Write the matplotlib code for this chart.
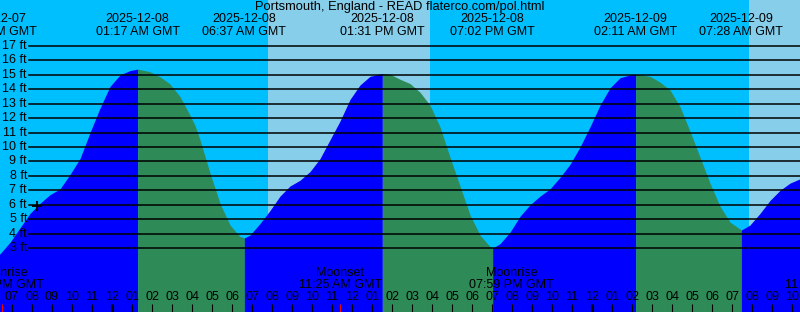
import matplotlib.pyplot as plt
import matplotlib.transforms as mtransforms
import numpy as np
import pandas as pd

plt.rcParams['font.family'] = ['Liberation Sans', 'DejaVu Sans']

base = pd.Timestamp("2025-12-08 00:00")

# tide curve, hours from 2025-12-08 00:00 GMT and height in ft
tide_hours = [-5.9, -5.6, -5.1, -4.6, -4.1, -3.6, -3.1, -2.6, -2.1, -1.6, -1.1, -0.6, -0.1,
              0.4, 0.9, 1.283, 1.9, 2.4, 2.9, 3.4, 3.9, 4.15, 4.4, 4.9, 5.4, 5.9, 6.4, 6.617,
              6.9, 7.4, 7.9, 8.4, 8.9, 9.4, 9.9, 10.4, 10.9, 11.4, 11.9, 12.4, 12.9, 13.517,
              13.9, 14.4, 14.9, 15.4, 15.9, 16.4, 16.9, 17.4, 17.9, 18.4, 18.9, 19.033,
              19.4, 19.9, 20.4, 20.9, 21.4, 21.9, 22.4, 22.9, 23.4, 23.9, 24.4, 24.9, 25.4,
              25.9, 26.183, 26.9, 27.4, 27.9, 28.4, 28.9, 29.4, 29.9, 30.4, 30.9, 31.467,
              31.9, 32.4, 32.9, 33.4, 33.9, 34.4]
tide_ft = [2.4, 2.6, 3.4, 4.4, 5.4, 6.1, 6.7, 7.1, 8.1, 9.2, 11.0, 12.7, 14.2,
           15.0, 15.3, 15.4, 15.22, 14.87, 14.37, 13.5, 12.2, 11.5, 10.5, 8.2, 6.1, 4.6, 3.8, 3.7,
           3.9, 4.7, 5.6, 6.6, 7.3, 7.7, 8.3, 9.2, 10.5, 11.8, 13.3, 14.3, 14.9, 15.1,
           15.05, 14.7, 14.4, 13.8, 12.9, 11.4, 9.3, 7.3, 5.3, 3.9, 3.1, 3.0,
           3.3, 4.1, 5.2, 6.0, 6.6, 7.1, 7.9, 8.8, 10.0, 11.4, 12.9, 14.1, 14.8,
           15.0, 15.05, 14.9, 14.5, 13.95, 12.8, 11.1, 9.3, 7.5, 5.9, 4.8, 4.25,
           4.6, 5.4, 6.3, 7.0, 7.5, 7.8]

# high / low water events
event_times = ["2025-12-07 18:06", "2025-12-08 01:17", "2025-12-08 06:37", "2025-12-08 13:31",
               "2025-12-08 19:02", "2025-12-09 02:11", "2025-12-09 07:28"]

moon_names = ["Moonrise", "Moonset", "Moonrise", "Moonset"]
moon_times = ["2025-12-07 18:29", "2025-12-08 11:25", "2025-12-08 19:59", "2025-12-09 11:44"]

sunrise_times = ["2025-12-08 07:48", "2025-12-09 07:51"]
sunset_times = ["2025-12-08 15:54", "2025-12-09 15:55"]

now_time = "2025-12-07 20:15"
now_ft = 5.9

ft_levels = list(range(3, 18))
hour_ticks = list(range(-5, 35))


def hrs(s):
    return (pd.Timestamp(s) - base).total_seconds() / 3600


night = '#00BFFF'
day = '#87CEEB'
rising = '#0000FF'
falling = '#2E8B57'

fig = plt.figure(figsize=(8, 3.12), dpi=100)
ax = fig.add_axes([0, 0, 1, 1])
ax.set_xlim(-5.6, 34.4)
ax.set_ylim(-1.43, 20.19)
ax.set_facecolor(night)
ax.set_axis_off()
fig.patch.set_facecolor(night)

for r, s in zip(sunrise_times, sunset_times):
    ax.axvspan(hrs(r), hrs(s), color=day, lw=0, zorder=0)

# water, blue when rising, green when falling
t = np.array(tide_hours)
h = np.array(tide_ft)
d = np.sign(np.diff(h))
start = 0
for i in range(1, len(d) + 1):
    if i == len(d) or d[i] != d[start]:
        seg = slice(start, i + 1)
        ax.fill_between(t[seg], h[seg], -5, color=rising if d[start] > 0 else falling,
                        lw=0, antialiased=False, zorder=1)
        start = i

yt = mtransforms.blended_transform_factory(ax.transAxes, ax.transData)
for lv in ft_levels:
    ax.axhline(lv, xmin=29 / 800, xmax=1, color='black', lw=1.1, zorder=2)
    ax.text(27 / 800, lv, f"{lv} ft", transform=yt, ha='right', va='center', fontsize=9, zorder=3)

ax.plot(hrs(now_time), now_ft, marker='+', color='black', ms=7, mew=1.3, zorder=4)

xt = mtransforms.blended_transform_factory(ax.transData, ax.transAxes)

ax.text(0.5, 0.977, "Portsmouth, England - READ flaterco.com/pol.html", transform=ax.transAxes,
        ha='center', va='center', fontsize=9.3, zorder=5)

for s in event_times:
    ts = pd.Timestamp(s)
    ax.text(hrs(s), 0.938, ts.strftime("%Y-%m-%d"), transform=xt, ha='center', va='center', fontsize=9, zorder=5)
    ax.text(hrs(s), 0.897, ts.strftime("%I:%M %p GMT"), transform=xt, ha='center', va='center', fontsize=9, zorder=5)

for name, s in zip(moon_names, moon_times):
    ts = pd.Timestamp(s)
    ax.text(hrs(s), 0.124, name, transform=xt, ha='center', va='center', fontsize=9, zorder=5)
    ax.text(hrs(s), 0.086, ts.strftime("%I:%M %p GMT"), transform=xt, ha='center', va='center', fontsize=9, zorder=5)
    ax.vlines(hrs(s), 0, 0.026, transform=xt, color='red', lw=0.8, zorder=5)

for hr in hour_ticks:
    lab = f"{(hr % 24) % 12 or 12:02d}"
    ax.text(hr, 0.048, lab, transform=xt, ha='center', va='center', fontsize=9, zorder=5)
    if hr % 24 == 0:
        ax.vlines(hr, 0, 0.026, transform=xt, color='black', lw=2.2, zorder=5)
    else:
        ax.vlines(hr, 0, 0.026, transform=xt, color='black', lw=0.8, zorder=5)

fig.savefig('out.png', dpi=100, facecolor=night)
